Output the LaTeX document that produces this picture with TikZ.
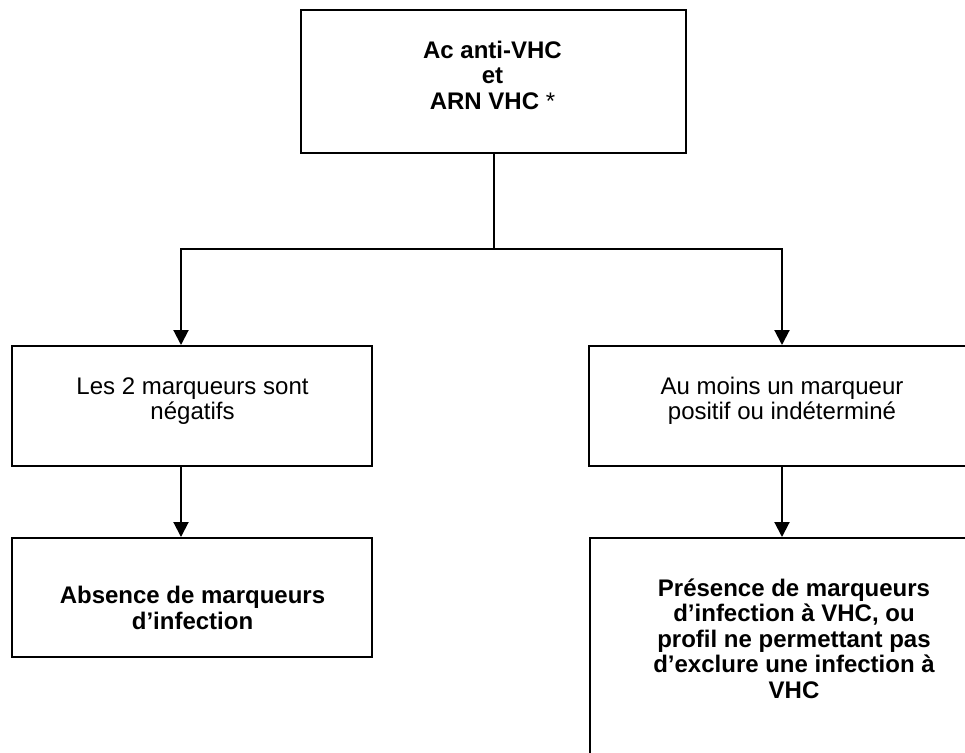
\documentclass[tikz,border=0pt]{standalone}
\usepackage{fontspec}
\setmainfont{Liberation Sans}
\usetikzlibrary{arrows.meta,positioning}

\tikzset{
  boite/.style={draw, line width=1pt, inner sep=0pt},
  texte/.style={align=center, inner sep=0pt, font=\fontsize{12}{12.75}\selectfont},
  gras/.style={texte, font=\fontsize{12}{12.75}\selectfont\bfseries},
  fleche/.style={line width=1pt, -{Triangle[length=7.5pt,width=7.5pt]}},
  trait/.style={line width=1pt}
}

\begin{document}
\begin{tikzpicture}[x=1pt,y=1pt]
    \useasboundingbox (0,0) rectangle (482.5,-376);
    \clip (0,0) rectangle (482.5,-376);
    % boites
    \node[boite, minimum width=192.5pt, minimum height=71.5pt] (test) at (246.75,-40.75) {};
    \node[boite, minimum width=180pt, minimum height=60pt] (neg) at (96,-203) {};
    \node[boite, minimum width=193pt, minimum height=60pt] (pos) at (391,-203) {};
    \node[boite, minimum width=180pt, minimum height=59.5pt] (absence) at (96,-298.75) {};
    \node[boite, minimum width=204pt, minimum height=131pt] (presence) at (397,-334.5) {};
    % textes
    \node[gras] (ttest) at (246.25,-37.5) {Ac anti-VHC\\et\\ARN VHC \textmd{*}};
    \node[texte] (tneg) at (96.25,-200.5) {Les 2 marqueurs sont\\négatifs};
    \node[texte] (tpos) at (391,-200.5) {Au moins un marqueur\\positif ou indéterminé};
    \node[gras, anchor=north] (tabsence) at (96.25,-293) {Absence de marqueurs\\d’infection};
    \node[gras, anchor=north] (tpresence) at (397,-289) {Présence de marqueurs\\d’infection à VHC, ou\\profil ne permettant pas\\d’exclure une infection à\\VHC};
    % liaisons
    \coordinate (jonction) at (246.75,-124.5);
    \coordinate (gauche) at (90.5,-124.5);
    \coordinate (droite) at (391,-124.5);
    \draw[trait] (test.south) -- (jonction);
    \draw[fleche] (jonction) -- (gauche) -- (gauche |- neg.north);
    \draw[fleche] (jonction) -- (droite) -- (droite |- pos.north);
    \draw[fleche] (neg.south -| gauche) -- (absence.north -| gauche);
    \draw[fleche] (pos.south) -- (pos.south |- presence.north);
\end{tikzpicture}
\end{document}
